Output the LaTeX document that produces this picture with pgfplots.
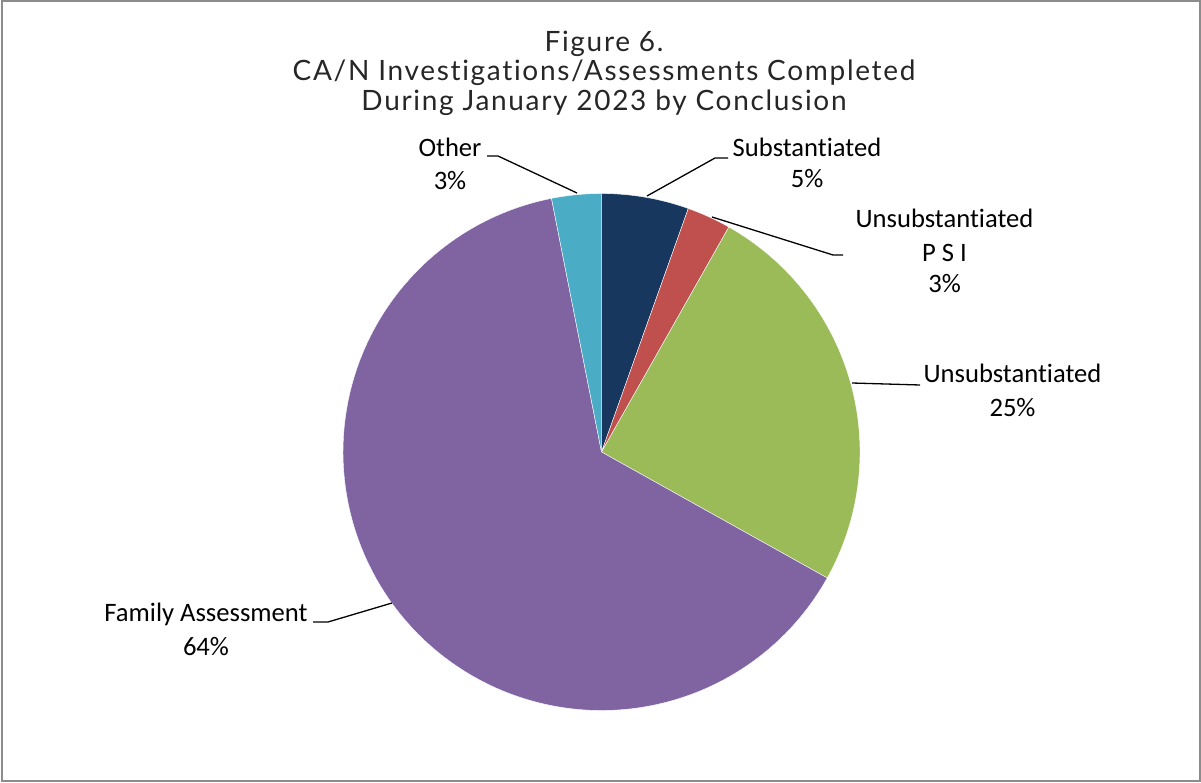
\documentclass[border=0pt]{standalone}
\usepackage{pgfplots}
\usepackage{pgfplotstable}
\pgfplotsset{compat=1.18}
\usepackage{fontspec}
\setmainfont{Carlito}[Ligatures=NoCommon]
\newfontfamily\titlefont[LetterSpace=6,Ligatures=NoCommon]{Lato}
\definecolor{pie0}{HTML}{17375E}
\definecolor{pie1}{HTML}{C0504D}
\definecolor{pie2}{HTML}{9BBB59}
\definecolor{pie3}{HTML}{8064A2}
\definecolor{pie4}{HTML}{4BACC6}
\definecolor{framegray}{HTML}{8C8C8C}

\pgfplotstableread{
name value
Substantiated 5.45
PSI 2.75
Unsubstantiated 24.9
Family 63.8
Other 3.1
}\piedata

\begin{document}
\begin{tikzpicture}
\gdef\cur{90}
\pgfplotstableforeachcolumnelement{value}\of\piedata\as\v{%
  \pgfmathsetmacro\nxt{\cur-3.6*\v}%
  \expandafter\xdef\csname st\pgfplotstablerow\endcsname{\cur}%
  \expandafter\xdef\csname en\pgfplotstablerow\endcsname{\nxt}%
  \xdef\cur{\nxt}%
}
\begin{axis}[
  width=1201pt, height=782pt, scale only axis,
  xmin=0, xmax=1201, ymin=0, ymax=782,
  hide axis, clip=false,
]
\pgfplotsinvokeforeach{0,...,4}{%
  \edef\ta{\csname en#1\endcsname}%
  \edef\tb{\csname st#1\endcsname}%
  \addplot[fill=pie#1, draw=white, line width=0.4pt, domain=\ta:\tb, samples=120]
    ({601.5+258.5*cos(x)}, {330+258.5*sin(x)}) -- (axis cs:601.5,330) -- cycle;
}
% frame
\draw[framegray, line width=2pt] (axis cs:1.5,1.5) rectangle (axis cs:1199.5,780.5);
% title
\node[anchor=base, text=black!85] at (axis cs:604,730.5) {\titlefont\fontsize{28}{30}\selectfont Figure 6.};
\node[anchor=base, text=black!85] at (axis cs:604,701) {\titlefont\fontsize{28}{30}\selectfont CA/N Investigations/Assessments Completed};
\node[anchor=base, text=black!85] at (axis cs:604,671) {\titlefont\fontsize{28}{30}\selectfont During January 2023 by Conclusion};
% leader lines
\draw[black, line width=1.3pt] (axis cs:647,586) -- (axis cs:715,624) -- (axis cs:728,624);
\draw[black, line width=1.3pt] (axis cs:577,589) -- (axis cs:498,626) -- (axis cs:487,626);
\draw[black, line width=1.3pt] (axis cs:712,565) -- (axis cs:833,527) -- (axis cs:843,527);
\draw[black, line width=1.3pt] (axis cs:852,399) -- (axis cs:920,397);
\draw[black, line width=1.3pt] (axis cs:392,179) -- (axis cs:328,160) -- (axis cs:313,160);
% labels
\tikzset{lab/.style={anchor=base, font=\fontsize{26.6}{32}\selectfont, inner sep=0pt}}
\node[lab] at (axis cs:807,625) {Substantiated};
\node[lab] at (axis cs:807,594) {5\%};
\node[lab] at (axis cs:450,625) {Other};
\node[lab] at (axis cs:450,592) {3\%};
\node[lab] at (axis cs:944.5,554) {Unsubstantiated};
\node[lab] at (axis cs:944.5,520.5) {P S I};
\node[lab] at (axis cs:944.5,489) {3\%};
\node[lab] at (axis cs:1012.5,399) {Unsubstantiated};
\node[lab] at (axis cs:1012.5,365) {25\%};
\node[lab] at (axis cs:206,160.5) {Family Assessment};
\node[lab] at (axis cs:206,127) {64\%};
\path (axis cs:0,0) (axis cs:1201,782);
\end{axis}
\end{tikzpicture}
\end{document}
